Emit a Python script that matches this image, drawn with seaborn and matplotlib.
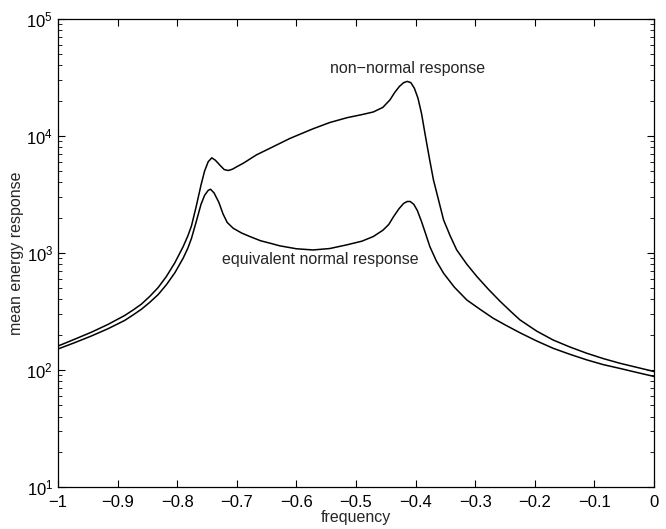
import matplotlib
matplotlib.use("Agg")
import matplotlib.pyplot as plt
import numpy as np, pandas as pd
import seaborn as sns

# non-normal response (upper curve)
freq_nonnormal = [-1.000, -0.972, -0.944, -0.916, -0.888, -0.874, -0.860, -0.846,
                  -0.832, -0.818, -0.804, -0.790, -0.782, -0.776, -0.768, -0.760,
                  -0.754, -0.748, -0.742, -0.736, -0.728, -0.721, -0.714, -0.707,
                  -0.700, -0.689, -0.667, -0.644, -0.611, -0.572, -0.544, -0.515,
                  -0.490, -0.471, -0.455, -0.443, -0.435, -0.427, -0.420, -0.414,
                  -0.408, -0.402, -0.396, -0.390, -0.384, -0.377, -0.370, -0.362,
                  -0.353, -0.342, -0.331, -0.314, -0.297, -0.278, -0.258, -0.240,
                  -0.225, -0.197, -0.169, -0.141, -0.113, -0.085, -0.057, -0.028,
                  0.000]
energy_nonnormal = [160, 183, 210, 245, 292, 325, 365, 425,
                    505, 630, 822, 1130, 1400, 1700, 2500, 3800,
                    5000, 6000, 6490, 6200, 5600, 5150, 5060, 5200,
                    5450, 5840, 6880, 7850, 9500, 11500, 13000, 14300,
                    15200, 16000, 17500, 20300, 23500, 26500, 28500, 29200,
                    28500, 25500, 21000, 15500, 10300, 6500, 4200, 2900,
                    1910, 1400, 1060, 800, 627, 490, 385, 315,
                    268, 215, 180, 157, 139, 125, 114, 105,
                    97]

# equivalent normal response (lower curve)
freq_normal = [-1.000, -0.972, -0.944, -0.916, -0.888, -0.874, -0.860, -0.846,
               -0.832, -0.818, -0.804, -0.790, -0.782, -0.776, -0.768, -0.760,
               -0.754, -0.748, -0.744, -0.738, -0.730, -0.723, -0.716, -0.706,
               -0.692, -0.678, -0.660, -0.644, -0.628, -0.600, -0.572, -0.544,
               -0.516, -0.490, -0.471, -0.455, -0.445, -0.437, -0.428, -0.420,
               -0.414, -0.409, -0.403, -0.397, -0.390, -0.383, -0.376, -0.365,
               -0.353, -0.335, -0.314, -0.292, -0.270, -0.248, -0.225, -0.197,
               -0.169, -0.141, -0.113, -0.085, -0.057, -0.028, 0.000]
energy_normal = [151, 171, 195, 225, 265, 295, 330, 378,
                 440, 535, 675, 900, 1100, 1330, 1850, 2600,
                 3100, 3420, 3500, 3250, 2700, 2150, 1820, 1625,
                 1480, 1380, 1270, 1210, 1150, 1085, 1060, 1090,
                 1170, 1260, 1380, 1560, 1750, 2040, 2380, 2650,
                 2750, 2750, 2600, 2300, 1850, 1450, 1130, 850,
                 670, 510, 396, 330, 277, 240, 208, 177,
                 153, 136, 122, 111, 103, 95, 88]

x_ticks = [-1, -0.9, -0.8, -0.7, -0.6, -0.5, -0.4, -0.3, -0.2, -0.1, 0]
x_ticklabels = ["\u22121", "\u22120.9", "\u22120.8", "\u22120.7", "\u22120.6", "\u22120.5",
                "\u22120.4", "\u22120.3", "\u22120.2", "\u22120.1", "0"]

sns.set_style("ticks")
plt.rcParams["font.family"] = ["Liberation Sans", "DejaVu Sans"]
plt.rcParams["mathtext.fontset"] = "custom"
plt.rcParams["mathtext.rm"] = "Liberation Sans"
plt.rcParams["mathtext.it"] = "Liberation Sans:italic"
plt.rcParams["mathtext.bf"] = "Liberation Sans:bold"

df_nn = pd.DataFrame({"frequency": freq_nonnormal, "energy": energy_nonnormal})
df_n = pd.DataFrame({"frequency": freq_normal, "energy": energy_normal})

fig = plt.figure(figsize=(6.66, 5.29), dpi=100)
ax = fig.add_axes([0.087, 0.0794, 0.895, 0.885])

sns.lineplot(data=df_nn, x="frequency", y="energy", ax=ax, color="black", lw=1.1)
sns.lineplot(data=df_n, x="frequency", y="energy", ax=ax, color="black", lw=1.1)

ax.set_yscale("log")
ax.set_xlim(-1, 0)
ax.set_ylim(10, 1e5)
ax.set_xticks(x_ticks)
ax.set_xticklabels(x_ticklabels)
ax.tick_params(axis="both", which="both", direction="in", top=True, right=True,
               labelsize=12, colors="black")
ax.tick_params(which="major", length=5, width=0.8)
ax.tick_params(which="minor", length=3, width=0.6)
ax.tick_params(axis="x", which="major", pad=6)
ax.tick_params(axis="x", which="minor", top=False, bottom=False)
for s in ax.spines.values():
    s.set_visible(True)
    s.set_linewidth(0.9)
    s.set_color("black")

ax.set_xlabel("frequency", fontsize=11.5, labelpad=0)
ax.set_ylabel("mean energy response", fontsize=11.5, labelpad=2)

ax.text(-0.414, 38000, "non\u2212normal response", ha="center", va="center", fontsize=11.5)
ax.text(-0.560, 870, "equivalent normal response", ha="center", va="center", fontsize=11.5)

fig.savefig("out.png", dpi=100)
